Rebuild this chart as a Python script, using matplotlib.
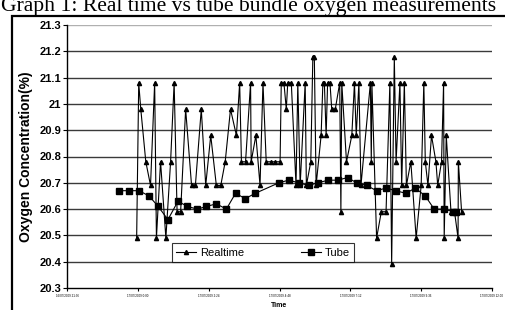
import matplotlib
matplotlib.use("Agg")
import matplotlib.pyplot as plt
from matplotlib.patches import Rectangle

# time in hours from the first axis tick
rt_hours = [2.36, 2.43, 2.50, 2.67, 2.83, 2.97, 3.03, 3.17, 3.35, 3.51, 3.63, 3.73, 3.85,
            4.02, 4.22, 4.35, 4.55, 4.70, 4.87, 5.06, 5.21, 5.36, 5.54, 5.74, 5.85, 5.91,
            6.05, 6.22, 6.24, 6.40, 6.54, 6.64, 6.75, 6.90, 7.06, 7.22, 7.26, 7.35, 7.43,
            7.48, 7.60, 7.76, 7.82, 7.90, 8.07, 8.11, 8.26, 8.33, 8.38, 8.44, 8.61, 8.67,
            8.72, 8.78, 8.83, 8.91, 8.97, 9.09, 9.24, 9.28, 9.31, 9.47, 9.65, 9.74, 9.80,
            9.89, 9.96, 10.28, 10.31, 10.33, 10.49, 10.65, 10.81, 10.94, 11.00, 11.09,
            11.15, 11.28, 11.34, 11.43, 11.50, 11.65, 11.83, 12.00, 12.09, 12.14, 12.23,
            12.35, 12.50, 12.56, 12.69, 12.76, 12.78, 12.85, 13.01, 13.13, 13.25, 13.26,
            13.37]
rt_o2 = [20.49, 21.08, 20.98, 20.78, 20.69, 21.08, 20.49, 20.78, 20.49, 20.78, 21.08, 20.59, 20.59,
         20.98, 20.69, 20.69, 20.98, 20.69, 20.88, 20.69, 20.69, 20.78, 20.98, 20.88, 21.08, 20.78,
         20.78, 21.08, 20.78, 20.88, 20.69, 21.08, 20.78, 20.78, 20.78, 20.78, 21.08, 21.08, 20.98,
         21.08, 21.08, 20.69, 21.08, 20.69, 21.08, 20.69, 20.78, 21.18, 21.18, 20.69, 20.88, 21.08,
         21.08, 20.88, 21.08, 21.08, 20.98, 20.98, 21.08, 20.59, 21.08, 20.78, 20.88, 21.08, 20.88,
         21.08, 20.69, 21.08, 20.78, 21.08, 20.49, 20.59, 20.59, 21.08, 20.39, 21.18,
         20.78, 21.08, 20.69, 21.08, 20.69, 20.78, 20.49, 20.69, 21.08, 20.78, 20.69,
         20.88, 20.78, 20.69, 20.78, 21.08, 20.49, 20.88, 20.59, 20.59, 20.49, 20.78,
         20.59]

tube_hours = [1.77, 2.11, 2.44, 2.78, 3.09, 3.42, 3.76, 4.08, 4.42, 4.72, 5.06, 5.40, 5.71,
              6.04, 6.38, 7.18, 7.51, 7.85, 8.19, 8.49, 8.86, 9.17, 9.51, 9.81, 10.15, 10.49,
              10.81, 11.14, 11.48, 11.80, 12.14, 12.44, 12.78, 13.09, 13.18]
tube_o2 = [20.67, 20.67, 20.67, 20.65, 20.61, 20.56, 20.63, 20.61, 20.60, 20.61, 20.62, 20.60, 20.66,
           20.64, 20.66, 20.70, 20.71, 20.70, 20.69, 20.70, 20.71, 20.71, 20.72, 20.70, 20.69, 20.67,
           20.68, 20.67, 20.66, 20.68, 20.65, 20.60, 20.60, 20.59, 20.59]

x_ticks = [0, 2.4, 4.8, 7.2, 9.6, 12.0, 14.4]
x_labels = ["16/07/2009 21:36", "17/07/2009 0:00", "17/07/2009 2:24", "17/07/2009 4:48",
            "17/07/2009 7:12", "17/07/2009 9:36", "17/07/2009 12:00"]
y_ticks = [20.3, 20.4, 20.5, 20.6, 20.7, 20.8, 20.9, 21.0, 21.1, 21.2, 21.3]
y_labels = ["20.3", "20.4", "20.5", "20.6", "20.7", "20.8", "20.9", "21", "21.1", "21.2", "21.3"]

plt.rcParams['font.family'] = ['Liberation Sans', 'DejaVu Sans']

fig = plt.figure(figsize=(5.06, 3.10), dpi=100)
W, H = 506, 310

# chart area frame
fig.patches.append(Rectangle((12 / W, -0.1), 1.0, 1 - 16 / H + 0.1, transform=fig.transFigure,
                             fill=False, edgecolor='black', linewidth=1.6))

# title sits partly above the picture, as in the source
fig.text(1 / W, 1 - 11 / H, "Graph 1: Real time vs tube bundle oxygen measurements",
         family='Liberation Serif', fontsize=15.6, va='baseline', ha='left')

ax = fig.add_axes([67 / W, 22 / H, 425 / W, 263 / H])
ax.set_xlim(0, 14.4)
ax.set_ylim(20.3, 21.3)

for v in y_ticks[1:]:
    ax.axhline(v, color='#3a3a3a' if v < 21.25 else '#b0b0b0', linewidth=1.0, zorder=1)

ax.plot(rt_hours, rt_o2, color='black', linewidth=0.8, marker='^', markersize=3,
        label='Realtime', zorder=3)
ax.plot(tube_hours, tube_o2, color='black', linewidth=0.8, marker='s', markersize=4.8,
        label='Tube', zorder=4)

ax.set_yticks(y_ticks)
ax.set_yticklabels(y_labels, fontsize=8, fontweight='bold')
ax.set_xticks(x_ticks)
ax.set_xticklabels(x_labels, fontsize=2.2)
ax.tick_params(axis='y', length=3, width=0.8, pad=1)
ax.tick_params(axis='x', length=2, width=0.8, pad=2)

for s in ['top', 'right']:
    ax.spines[s].set_visible(False)
ax.spines['left'].set_linewidth(1.0)
ax.spines['bottom'].set_linewidth(1.0)

ax.set_ylabel("Oxygen Concentration(%)", fontsize=10, fontweight='bold', labelpad=5)
ax.set_xlabel("Time", fontsize=5, fontweight='bold', labelpad=3)

leg = ax.legend(loc='lower left', bbox_to_anchor=(105 / 425, 26 / 263, 182 / 425, 25 / 263),
                ncol=2, mode='expand', fontsize=8, frameon=True, fancybox=False,
                handlelength=1.8, borderaxespad=0, borderpad=0.4, handletextpad=0.3)
leg.get_frame().set_edgecolor('black')
leg.get_frame().set_linewidth(0.8)

fig.savefig("out.png", dpi=100)
